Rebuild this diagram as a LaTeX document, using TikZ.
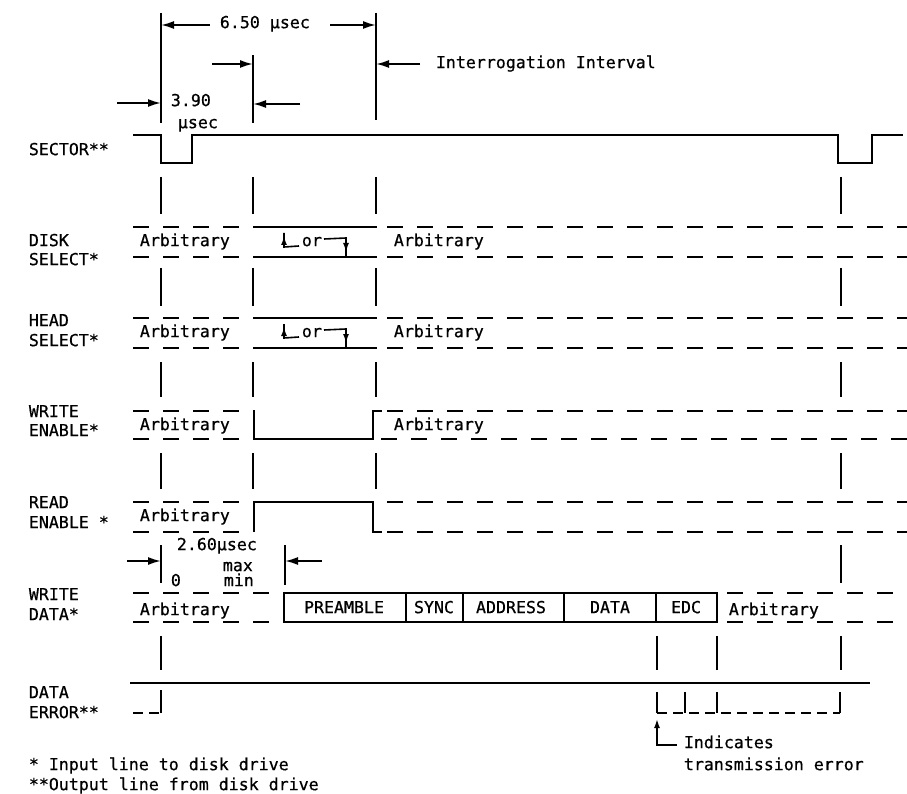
\documentclass[tikz,border=0pt]{standalone}
\usepackage{fontspec}
\newfontfamily\lgfont[FakeBold=0.6]{DejaVu Sans Mono}
\usetikzlibrary{arrows.meta}
\begin{document}
\begin{tikzpicture}[x=1pt,y=-1pt,line width=1.8pt,line join=miter,
  txt/.style={font=\lgfont\fontsize{16.6}{19}\selectfont,inner sep=0pt,anchor=mid west},
  ctxt/.style={font=\lgfont\fontsize{16.6}{19}\selectfont,inner sep=0pt,anchor=mid},
  dsh/.style={dash pattern=on 16pt off 14pt},
  sdsh/.style={dash pattern=on 10pt off 6pt},
  arr/.style={-{Latex[length=13pt,width=8pt]}},
  sarr/.style={line width=1.6pt,-{Latex[length=9pt,width=6pt]}},
  edge/.style={line width=1.6pt},
  tick/.style={line width=1.8pt}]
\useasboundingbox (0,0) rectangle (907,794);

% ---- top dimension lines ----
\draw[tick] (161,13) -- (161,123);
\draw[tick] (253,55) -- (253,123);
\draw[tick] (376,13) -- (376,120);
\draw[arr] (210,25) -- (161,25);
\draw[arr] (330,25) -- (376,25);
\draw[arr] (212,64) -- (253,64);
\draw[arr] (420,64) -- (376,64);
\draw[arr] (117,103) -- (161,103);
\draw[arr] (300,104) -- (253,104);
\node[txt] (t650) at (219,26) {6.50 μsec};
\node[txt] (tint) at (435,66) {Interrogation Interval};
\node[txt] (t390) at (170,104) {3.90};
\node[txt] (tus) at (177,126) {μsec};

% ---- row labels ----
\node[txt] (lsec) at (28,153) {SECTOR**};
\node[txt] (ld1) at (28,244) {DISK};
\node[txt] (ld2) at (28,263) {SELECT*};
\node[txt] (lh1) at (28,324) {HEAD};
\node[txt] (lh2) at (28,344) {SELECT*};
\node[txt] (lw1) at (28,415) {WRITE};
\node[txt] (lw2) at (28,434) {ENABLE*};
\node[txt] (lr1) at (28,506) {READ};
\node[txt] (lr2) at (28,526) {ENABLE *};
\node[txt] (lwd1) at (28,598) {WRITE};
\node[txt] (lwd2) at (28,618) {DATA*};
\node[txt] (le1) at (28,696) {DATA};
\node[txt] (le2) at (28,716) {ERROR**};

% ---- SECTOR ----
\draw (133,135) -- (161,135) -- (161,163) -- (192,163) -- (192,135) -- (838,135)
      -- (838,163) -- (872,163) -- (872,135) -- (903,135);

% ---- vertical interval segments ----
\foreach \x in {161,253,376,841}{
  \draw[tick] (\x,177) -- (\x,214);
  \draw[tick] (\x,268) -- (\x,306);
  \draw[tick] (\x,362) -- (\x,397);
  \draw[tick] (\x,453) -- (\x,489);
}
\draw[tick] (841,545) -- (841,583);
\foreach \x in {161,657,717,841}{\draw[tick] (\x,636) -- (\x,670);}

% ---- DISK SELECT ----
\draw[dsh] (133,227) -- (240,227);
\draw[dsh] (133,257) -- (240,257);
\draw (253,227) -- (377,227);
\draw (253,257) -- (377,257);
\draw[dsh] (387,227) -- (907,227);
\draw[dsh] (387,257) -- (907,257);
\node[txt] (a1) at (139,244) {Arbitrary};
\node[txt] (a1r) at (393,244) {Arbitrary};
\draw[edge] (299,246) -- (284,247) -- (284,233);
\draw[sarr] (284,247) -- (284,236);
\node[txt] (or1) at (301,244) {or};
\draw[edge] (324,239) -- (346,238) -- (346,256);
\draw[sarr] (346,238) -- (346,252);

% ---- HEAD SELECT ----
\draw[dsh] (133,318) -- (240,318);
\draw[dsh] (133,348) -- (240,348);
\draw (253,318) -- (377,318);
\draw (253,348) -- (377,348);
\draw[dsh] (387,318) -- (907,318);
\draw[dsh] (387,348) -- (907,348);
\node[txt] (a2) at (139,335) {Arbitrary};
\node[txt] (a2r) at (393,335) {Arbitrary};
\draw[edge] (299,337) -- (284,338) -- (284,324);
\draw[sarr] (284,338) -- (284,327);
\node[txt] (or2) at (301,335) {or};
\draw[edge] (324,330) -- (346,329) -- (346,347);
\draw[sarr] (346,329) -- (346,343);

% ---- WRITE ENABLE ----
\draw[dsh] (133,411) -- (240,411);
\draw[dsh] (133,439) -- (240,439);
\draw (254,410) -- (254,439) -- (373,439) -- (373,411) -- (382,411);
\draw[dsh] (387,411) -- (907,411);
\draw[dsh] (381,439) -- (907,439);
\node[txt] (a3) at (139,428) {Arbitrary};
\node[txt] (a3r) at (393,428) {Arbitrary};

% ---- READ ENABLE ----
\draw[dsh] (133,502) -- (240,502);
\draw[dsh] (133,532) -- (240,532);
\draw (254,532) -- (254,502) -- (373,502) -- (373,532) -- (382,532);
\draw[dsh] (387,502) -- (907,502);
\draw[dsh] (387,532) -- (907,532);
\node[txt] (a4) at (139,519) {Arbitrary};

% ---- 2.60 usec dimension ----
\draw[tick] (161,545) -- (161,583);
\draw[tick] (285,545) -- (285,585);
\draw[arr] (127,561) -- (161,561);
\draw[arr] (322,561) -- (285,561);
\node[txt] (t260) at (176,548) {2.60μsec};
\node[txt] (tmax) at (222,569) {max};
\node[txt] (t0) at (170,584) {0};
\node[txt] (tmin) at (223,584) {min};

% ---- WRITE DATA ----
\draw[dsh] (133,593) -- (272,593);
\draw[dsh] (133,622) -- (272,622);
\draw (284,593) rectangle (717,622);
\foreach \x in {406,463,564,656}{\draw (\x,593) -- (\x,622);}
\draw[dsh] (727,593) -- (907,593);
\draw[dsh] (727,622) -- (907,622);
\node[txt] (a5) at (139,613) {Arbitrary};
\node[ctxt] (pre) at (344,611) {PREAMBLE};
\node[ctxt] (syn) at (434,611) {SYNC};
\node[ctxt] (adr) at (511,611) {ADDRESS};
\node[ctxt] (dat) at (610,611) {DATA};
\node[ctxt] (edc) at (686,611) {EDC};
\node[txt] (a5r) at (728,613) {Arbitrary};

% ---- DATA ERROR ----
\draw (130,683) -- (870,683);
\draw[sdsh] (133,713) -- (161,713);
\draw (161,713) -- (161,690);
\draw[sdsh] (657,713) -- (840,713);
\foreach \x in {657,685,717}{\draw (\x,692) -- (\x,713);}
\draw (840,713) -- (840,692);

% ---- callout ----
\draw[line width=1.6pt] (677,745) -- (657,745) -- (657,735);
\draw[sarr] (657,745) -- (657,719);
\node[txt] (ind1) at (683,746) {Indicates};
\node[txt] (ind2) at (683,768) {transmission error};

% ---- footnotes ----
\node[txt] (f1) at (28,768) {* Input line to disk drive};
\node[txt] (f2) at (28,788) {**Output line from disk drive};
\end{tikzpicture}
\end{document}
